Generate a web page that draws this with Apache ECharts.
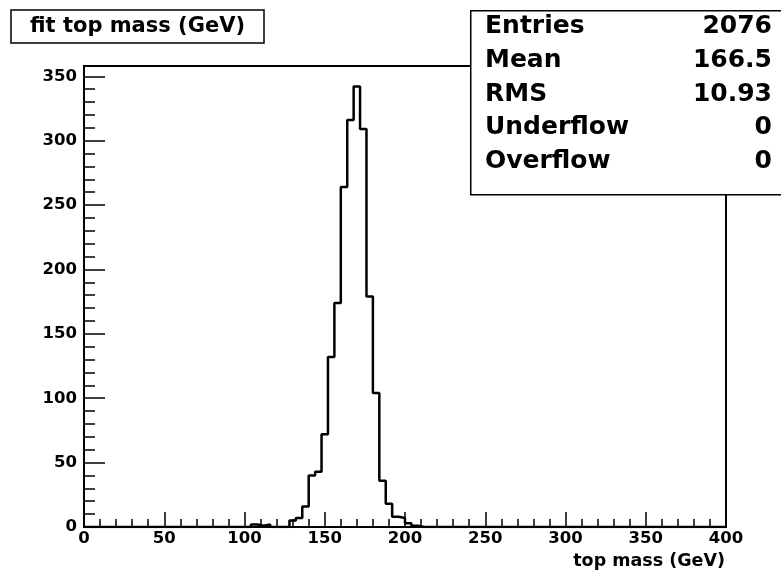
<!DOCTYPE html>
<html>
<head>
<meta charset="utf-8">
<script src="https://cdn.jsdelivr.net/npm/echarts@6/dist/echarts.min.js"></script>
<style>
  html, body { margin: 0; padding: 0; background: #fff; }
  #chart { width: 781px; height: 571px; }
</style>
</head>
<body>
<div id="chart"></div>
<script>
// Histogram of the fitted top mass: 100 bins of 4 GeV between 0 and 400 GeV.
const binWidth = 4;
const xMin = 0;
const xMax = 400;
// Lower edges (GeV) of the filled bins and their entry counts.
const filledBinLow = [104, 108, 112, 128, 132, 136, 140, 144, 148, 152, 156, 160, 164, 168, 172, 176, 180, 184, 188, 192, 196, 200, 204];
const filledBinCount = [2, 1, 2, 5, 7, 16, 40, 43, 72, 132, 174, 264, 316, 342, 309, 179, 104, 36, 18, 8, 7, 3, 1];
const xTicks = [0, 50, 100, 150, 200, 250, 300, 350, 400];
const yTicks = [0, 50, 100, 150, 200, 250, 300, 350];
const statNames = ['Entries', 'Mean', 'RMS', 'Underflow', 'Overflow'];
const statValues = ['2076', '166.5', '10.93', '0', '0'];

const FONT = 'DejaVu Sans';

// Full bin contents (empty bins are 0) as step points at each bin's lower edge.
const nBins = (xMax - xMin) / binWidth;
const stepData = [];
for (let i = 0; i < nBins; i++) {
  const low = xMin + i * binWidth;
  const k = filledBinLow.indexOf(low);
  stepData.push([low, k >= 0 ? filledBinCount[k] : 0]);
}
stepData.push([xMax, 0]);

const chart = echarts.init(document.getElementById('chart'), null, { renderer: 'canvas' });

const statGraphics = [];
statNames.forEach((name, i) => {
  const cy = 24 + i * 33.8;
  statGraphics.push({
    type: 'text', left: 485, top: cy - 10, z: 102,
    style: { text: name, font: 'bold 25px "' + FONT + '"', fill: '#000', textVerticalAlign: 'top' }
  });
  statGraphics.push({
    type: 'text', right: 9, top: cy - 10, z: 102,
    style: { text: statValues[i], font: 'bold 25px "' + FONT + '"', fill: '#000', textAlign: 'right', textVerticalAlign: 'top' }
  });
});

chart.setOption({
  backgroundColor: '#fff',
  animation: false,
  title: {
    text: 'fit top mass (GeV)',
    left: 11,
    top: 10,
    padding: [4, 19, 3, 19],
    borderWidth: 1.5,
    borderColor: '#000',
    backgroundColor: '#fff',
    textStyle: { fontFamily: FONT, fontWeight: 'bold', fontSize: 21, color: '#000', lineHeight: 26 }
  },
  grid: {
    left: 84, right: 55, top: 66, bottom: 44,
    show: true, borderColor: '#000', borderWidth: 2, backgroundColor: '#fff'
  },
  xAxis: {
    type: 'value',
    min: xMin, max: xMax, interval: 50,
    name: 'top mass (GeV)',
    nameLocation: 'end',
    nameGap: -1,
    nameTextStyle: {
      fontFamily: FONT, fontWeight: 'bold', fontSize: 17.5, color: '#000',
      align: 'right', verticalAlign: 'top', padding: [25, 0, 0, 0]
    },
    axisLine: { show: true, lineStyle: { color: '#000', width: 2 } },
    axisTick: { show: true, inside: true, length: 15, lineStyle: { color: '#000', width: 1.5 } },
    minorTick: { show: true, splitNumber: 5, length: 8, lineStyle: { color: '#000', width: 1.5 } },
    splitLine: { show: false },
    axisLabel: {
      fontFamily: FONT, fontWeight: 'bold', fontSize: 16.5, color: '#000', margin: 3,
      formatter: v => (xTicks.indexOf(v) >= 0 ? String(v) : '')
    }
  },
  yAxis: {
    type: 'value',
    min: 0, max: 358, interval: 50,
    axisLine: { show: true, lineStyle: { color: '#000', width: 2 } },
    axisTick: { show: true, inside: true, length: 21, lineStyle: { color: '#000', width: 1.5 } },
    minorTick: { show: true, splitNumber: 5, length: 11, lineStyle: { color: '#000', width: 1.5 } },
    splitLine: { show: false },
    axisLabel: {
      fontFamily: FONT, fontWeight: 'bold', fontSize: 16.5, color: '#000', margin: 7,
      showMaxLabel: false,
      formatter: v => (yTicks.indexOf(v) >= 0 ? String(v) : '')
    }
  },
  series: [{
    type: 'line',
    step: 'end',
    data: stepData,
    symbol: 'none',
    clip: true,
    lineStyle: { color: '#000', width: 2.5 },
    z: 3
  }],
  graphic: [
    {
      type: 'rect', left: 470, top: 10, z: 100,
      shape: { width: 320, height: 184 },
      style: { fill: '#fff', stroke: '#000', lineWidth: 1.5 }
    }
  ].concat(statGraphics)
});
</script>
</body>
</html>
